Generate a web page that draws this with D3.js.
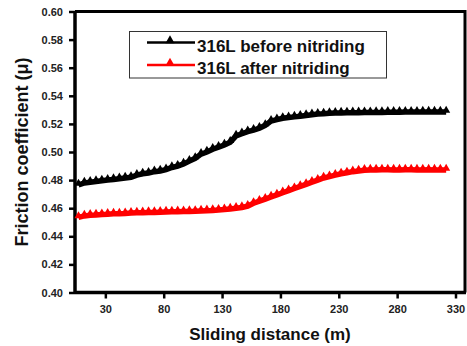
<!DOCTYPE html>
<html>
<head>
<meta charset="utf-8">
<script src="https://cdn.jsdelivr.net/npm/d3@7/dist/d3.min.js"></script>
<style>
  html, body { margin: 0; padding: 0; background: #fff; }
  svg { display: block; font-family: Arial, "Liberation Sans", sans-serif; }
</style>
</head>
<body>
<svg id="chart" width="467" height="346"></svg>
<script>
// ---- data ----
const distance = [7,12,17,22,27,32,37,42,47,52,57,62,67,72,77,82,87,92,97,102,107,112,117,122,127,132,137,142,147,152,157,162,167,172,177,182,187,192,197,202,207,212,217,222,227,232,237,242,247,252,257,262,267,272,277,282,287,292,297,302,307,312,317,322];
const before = [0.4765,0.4780,0.4785,0.4790,0.4795,0.4800,0.4805,0.4810,0.4815,0.4820,0.4835,0.4845,0.4850,0.4860,0.4865,0.4875,0.4890,0.4900,0.4915,0.4935,0.4955,0.4985,0.5000,0.5020,0.5035,0.5050,0.5070,0.5115,0.5130,0.5145,0.5155,0.5170,0.5190,0.5220,0.5230,0.5240,0.5245,0.5250,0.5255,0.5260,0.5265,0.5270,0.5272,0.5275,0.5277,0.5278,0.5279,0.5280,0.5280,0.5281,0.5281,0.5282,0.5282,0.5283,0.5283,0.5283,0.5284,0.5284,0.5284,0.5285,0.5285,0.5285,0.5285,0.5285];
const after = [0.4535,0.4545,0.4550,0.4552,0.4555,0.4557,0.4560,0.4560,0.4562,0.4565,0.4567,0.4568,0.4570,0.4570,0.4572,0.4573,0.4574,0.4575,0.4576,0.4577,0.4578,0.4580,0.4582,0.4584,0.4587,0.4590,0.4595,0.4600,0.4605,0.4615,0.4635,0.4650,0.4665,0.4680,0.4695,0.4710,0.4725,0.4740,0.4755,0.4770,0.4785,0.4800,0.4815,0.4825,0.4835,0.4845,0.4852,0.4860,0.4865,0.4870,0.4872,0.4872,0.4873,0.4873,0.4872,0.4872,0.4873,0.4873,0.4872,0.4872,0.4873,0.4872,0.4872,0.4872];
const xTicks = [30,80,130,180,230,280,330];
const yTicks = [0.40,0.42,0.44,0.46,0.48,0.50,0.52,0.54,0.56,0.58,0.60];
const seriesNames = ["316L before nitriding","316L after nitriding"];
const seriesColors = ["#000000","#ff0000"];

// ---- layout ----
const svg = d3.select("#chart");
const mLeft = 75, mRight = 466, mTop = 11.5, mBottom = 292.5;
const x = d3.scaleLinear().domain([4, 339]).range([mLeft, mRight]);
const y = d3.scaleLinear().domain([0.40, 0.60]).range([mBottom, mTop]);

// frame (top + right)
svg.append("path")
  .attr("d", `M${mLeft},${mTop}H${mRight - 1}V${mBottom}`)
  .attr("fill", "none").attr("stroke", "#000").attr("stroke-width", 3);

// axes
const xAxis = svg.append("g").attr("transform", `translate(0,${mBottom})`)
  .call(d3.axisBottom(x).tickValues(xTicks).tickSize(6).tickPadding(7).tickFormat(d3.format("d")));
const yAxis = svg.append("g").attr("transform", `translate(${mLeft},0)`)
  .call(d3.axisLeft(y).tickValues(yTicks).tickSize(6).tickPadding(6).tickFormat(d3.format(".2f")));
[xAxis, yAxis].forEach(g => {
  g.select(".domain").attr("stroke-width", 3.5).attr("stroke", "#000");
  g.selectAll(".tick line").attr("stroke-width", 2.5).attr("stroke", "#000");
  g.selectAll(".tick text").attr("font-size", 11).attr("font-weight", "bold")
    .attr("fill", "#222").attr("font-family", "Arial, 'Liberation Sans', sans-serif");
});
xAxis.select(".domain").attr("d", `M${mLeft},0H${mRight}`);
yAxis.select(".domain").attr("d", `M0,${mBottom}V${mTop}`);

// series
const tri = d3.symbol().type(d3.symbolTriangle).size(28);
const line = d3.line().x(d => x(d[0])).y(d => y(d[1]));
[before, after].forEach((vals, i) => {
  const pts = distance.map((d, j) => [d, vals[j]]);
  svg.append("path").datum(pts).attr("d", line)
    .attr("fill", "none").attr("stroke", seriesColors[i]).attr("stroke-width", 5.5);
  svg.append("g").selectAll("path").data(pts).join("path")
    .attr("d", tri)
    .attr("transform", d => `translate(${x(d[0])},${y(d[1]) - 1.5})`)
    .attr("fill", seriesColors[i]);
});

// axis titles
svg.append("text").attr("x", 270).attr("y", 340).attr("text-anchor", "middle")
  .attr("font-size", 17).attr("font-weight", "bold").attr("fill", "#111")
  .text("Sliding distance (m)");
svg.append("text").attr("transform", "translate(28,152) rotate(-90)").attr("text-anchor", "middle")
  .attr("font-size", 18).attr("font-weight", "bold").attr("fill", "#111")
  .text("Friction coefficient (μ)");

// legend
const lg = svg.append("g");
lg.append("rect").attr("x", 129.5).attr("y", 31.5).attr("width", 257).attr("height", 46.5)
  .attr("fill", "#fff").attr("stroke", "#333").attr("stroke-width", 1);
seriesNames.forEach((name, i) => {
  const ly = 42.5 + i * 22.5;
  lg.append("line").attr("x1", 147).attr("x2", 195).attr("y1", ly).attr("y2", ly)
    .attr("stroke", seriesColors[i]).attr("stroke-width", 2.5);
  lg.append("path").attr("d", d3.symbol().type(d3.symbolTriangle).size(36))
    .attr("transform", `translate(170,${ly - 2})`).attr("fill", seriesColors[i]);
  lg.append("text").attr("x", 197).attr("y", ly + 9).attr("font-size", 17)
    .attr("font-weight", "bold").attr("fill", "#111").text(name);
});
</script>
</body>
</html>
